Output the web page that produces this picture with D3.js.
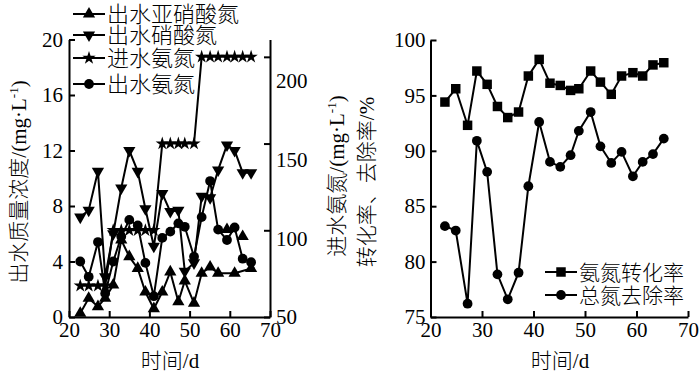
<!DOCTYPE html>
<meta charset="utf-8">
<style>
body { margin: 0; background: #fff; }
svg text { font-family: "Liberation Serif", "Times New Roman", "Noto Sans CJK SC", serif; fill: #000; }
.cjk { font-family: "Noto Sans CJK SC", sans-serif; font-weight: 300; }
.line { fill: none; stroke: #000; stroke-width: 2px; }
.axis path, .axis line { stroke: #000; stroke-width: 2px; }
</style>
<svg width="700" height="376"></svg>
<script src="https://d3js.org/d3.v7.min.js"></script>
<script>
// sampling days (shared by both panels)
var days = [22.8, 24.9, 27.2, 29, 31, 33, 35, 37.1, 39, 41.1, 43.2, 45.2, 47.2, 48.8, 51.1, 53, 55.1, 57.1, 59.3, 61.2, 63.2, 65.3];

// left panel, left axis (mg/L)
var nitrite  = [0.27, 1.35, 0.75, 1.35, 2.3, 5.55, 4.35, 3.5, 1.8, 0.6, 1.8, 3.25, 1.1, 2.6, 1.0, 3.15, 3.6, 3.15, null, 3.15, null, 3.5];
var nitriteExtra = [null, null, null, null, null, null, null, null, null, null, null, null, null, null, null, null, null, null, 6.3, null, 5.8, null];
var nitrate  = [7.2, 7.7, 10.5, 2.9, 6.0, 9.3, 12.0, 10.5, 7.8, 5.1, 8.9, 7.6, 7.7, 3.3, 3.9, 8.7, 8.6, 10.6, 12.4, 12.0, 10.4, 10.4];
var ammoniaOut = [4.0, 2.9, 5.4, 1.7, 4.0, 5.8, 7.0, 6.6, 3.9, 1.5, 5.7, 6.15, 6.75, 6.5, 4.35, 7.2, 9.8, 6.3, 5.55, 6.45, 4.2, 3.95];
// left panel, right axis (mg/L)
var ammoniaIn = [68, 68, 68, 68, 100, 100, 100, 100, 100, 100, 150, 150, 150, 150, 150, 200, 200, 200, 200, 200, 200, 200];

// right panel (%)
var conversion = [94.4, 95.6, 92.3, 97.2, 96.0, 94.0, 93.0, 93.5, 96.75, 98.25, 96.1, 95.9, 95.45, 95.6, 97.2, 96.2, 95.1, 96.75, 97.05, 96.75, 97.75, 97.95];
var removal = [83.2, 82.8, 76.2, 90.9, 88.1, 78.85, 76.6, 79.0, 86.8, 92.6, 89.0, 88.55, 89.6, 91.8, 93.5, 90.4, 88.9, 89.9, 87.7, 89.0, 89.7, 91.1];

var xTicks = [20, 30, 40, 50, 60, 70];
var leftTicks = [0, 4, 8, 12, 16, 20];
var rightTicks = [50, 100, 150, 200];
var pctTicks = [75, 80, 85, 90, 95, 100];

var serif = "'Liberation Serif', 'Times New Roman', 'DejaVu Serif', serif";

var svg = d3.select("svg");

var x1 = d3.scaleLinear().domain([20, 70]).range([69, 270]);
var y1 = d3.scaleLinear().domain([0, 20]).range([317, 39.5]);
var y1r = d3.scaleLinear().domain([50, 210]).range([317, 39.5]);
var y1rLabel = d3.scaleLinear().domain([50, 200]).range([317, 81]);

var x2 = d3.scaleLinear().domain([20, 70]).range([430.5, 688]);
var y2 = d3.scaleLinear().domain([75, 100]).range([317, 40]);

function styleAxis(g) {
  g.attr("class", "axis").attr("font-size", null).attr("font-family", null);
  g.selectAll("text").style("font-size", "21px").style("font-family", serif);
}

// axes, left panel
svg.append("g").attr("transform", "translate(0,317)")
  .call(d3.axisBottom(x1).tickValues(xTicks).tickSize(-6).tickSizeOuter(0).tickPadding(5))
  .call(styleAxis);
svg.append("g").attr("transform", "translate(69,0)")
  .call(d3.axisLeft(y1).tickValues(leftTicks).tickSize(-6).tickSizeOuter(0).tickPadding(6))
  .call(styleAxis);
var rAxis = svg.append("g").attr("transform", "translate(270,0)")
  .call(d3.axisRight(y1r).tickValues(rightTicks).tickSize(-6).tickSizeOuter(0).tickPadding(6))
  .call(styleAxis);
rAxis.selectAll(".tick text").attr("y", function(d) { return y1rLabel(d) - y1r(d); });

// axes, right panel
svg.append("g").attr("transform", "translate(0,317)")
  .call(d3.axisBottom(x2).tickValues(xTicks).tickSize(-6).tickSizeOuter(0).tickPadding(5))
  .call(styleAxis);
svg.append("g").attr("transform", "translate(430.5,0)")
  .call(d3.axisLeft(y2).tickValues(pctTicks).tickSize(-6).tickSizeOuter(0).tickPadding(5))
  .call(styleAxis);

// series helpers
function pts(vals) {
  return days.map(function(d, i) { return {x: d, y: vals[i]}; })
    .filter(function(p) { return p.y != null; });
}

var triUp = d3.symbol().type(d3.symbolTriangle).size(65)();
var triDown = triUp;
var star = d3.symbol().type(d3.symbolStar).size(55)();
var circle = d3.symbol().type(d3.symbolCircle).size(75)();
var square = d3.symbol().type(d3.symbolSquare).size(90)();

function series(vals, xs, ys, shape, rot, noLine) {
  var data = pts(vals);
  if (!noLine) {
    svg.append("path").datum(data).attr("class", "line")
      .attr("d", d3.line().x(function(d) { return xs(d.x); }).y(function(d) { return ys(d.y); }));
  }
  svg.append("g").selectAll("path").data(data).join("path")
    .attr("d", shape)
    .attr("transform", function(d) { return "translate(" + xs(d.x) + "," + ys(d.y) + ") rotate(" + rot + ")"; })
    .attr("fill", "#000");
}

series(ammoniaIn, x1, y1r, star, 0);
series(nitrate, x1, y1, triDown, 180);
series(ammoniaOut, x1, y1, circle, 0);
series(nitrite, x1, y1, triUp, 0);
series(nitriteExtra, x1, y1, triUp, 0, true);

series(conversion, x2, y2, square, 0);
series(removal, x2, y2, circle, 0);

// legends
function legend(items, x0, y0s, size) {
  items.forEach(function(it, i) {
    var y = y0s[i];
    svg.append("line").attr("x1", x0).attr("x2", x0 + 32).attr("y1", y).attr("y2", y)
      .attr("stroke", "#000").attr("stroke-width", 2);
    svg.append("path").attr("d", it.shape)
      .attr("transform", "translate(" + (x0 + 16) + "," + y + ") rotate(" + it.rot + ")");
    svg.append("text").attr("class", "cjk").attr("x", x0 + 34).attr("y", y).attr("dy", "0.36em")
      .style("font-size", size + "px").text(it.name);
  });
}

legend([
  {name: "出水亚硝酸氮", shape: triUp, rot: 0},
  {name: "出水硝酸氮", shape: triDown, rot: 180},
  {name: "进水氨氮", shape: star, rot: 0},
  {name: "出水氨氮", shape: circle, rot: 0}
], 73, [14, 35, 58, 84], 22);

legend([
  {name: "氨氮转化率", shape: square, rot: 0},
  {name: "总氮去除率", shape: circle, rot: 0}
], 545, [272, 295], 21);

// axis titles
function hTitle(x, y) {
  var t = svg.append("text").attr("x", x).attr("y", y).attr("text-anchor", "middle").attr("dy", "0.36em")
    .style("font-size", "21px");
  t.append("tspan").attr("class", "cjk").text("时间");
  t.append("tspan").style("font-family", serif).text("/d");
}
hTitle(170, 360);
hTitle(560, 360);

function vTitle(x, y, main, unit) {
  var t = svg.append("text").attr("transform", "translate(" + x + "," + y + ") rotate(-90)")
    .attr("text-anchor", "middle").attr("dy", "0.36em").style("font-size", "21px");
  t.append("tspan").attr("class", "cjk").text(main);
  t.append("tspan").style("font-family", serif).text(unit ? "/(mg·L" : "/%");
  if (unit) {
    t.append("tspan").attr("dy", "-8").style("font-size", "13px").style("font-family", serif).text("-1");
    t.append("tspan").attr("dy", "8").style("font-family", serif).text(")");
  }
}
vTitle(18, 182, "出水质量浓度", true);
vTitle(336, 176, "进水氨氮", true);
vTitle(366, 182, "转化率、去除率", false);
</script>
